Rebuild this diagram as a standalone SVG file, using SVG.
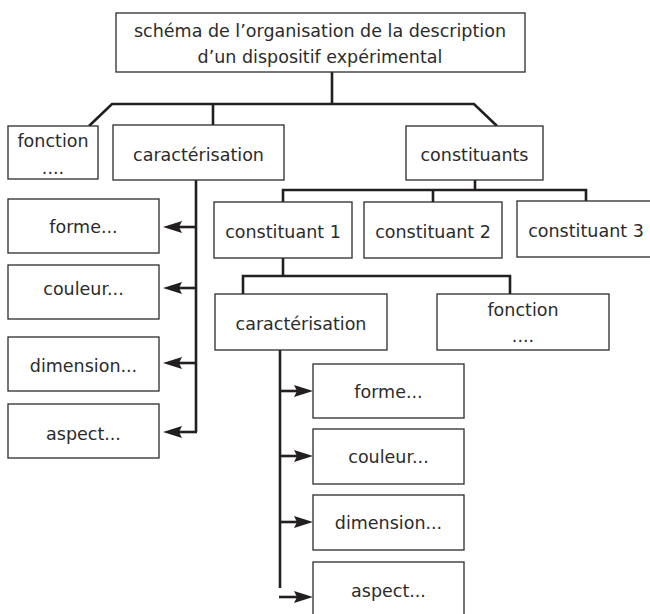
<svg xmlns="http://www.w3.org/2000/svg" width="650" height="614" viewBox="0 0 650 614">
<defs>
<style>
.box{fill:#fff;stroke:#2b2b2b;stroke-width:1.3}
.t{font-family:"DejaVu Sans","Liberation Sans",sans-serif;font-size:17.5px;fill:#2b2b2b;text-anchor:middle}
.c{fill:none;stroke:#231f20;stroke-width:2.6;stroke-linejoin:miter}
.a{fill:none;stroke:#231f20;stroke-width:2.6;marker-end:url(#ah)}
</style>
<marker id="ah" markerUnits="userSpaceOnUse" markerWidth="20" markerHeight="14" viewBox="0 0 20 14" refX="9" refY="7" orient="auto">
<path d="M0,1 L19,7 L0,13 L3,7 z" fill="#231f20"/>
</marker>
</defs>
<rect width="650" height="614" fill="#fff"/>
<g id="connectors">
<path class="c" d="M332,72 V104 M89,126 L112,104 H474 L497,126 M213,104 V125"/>
<path class="c" d="M196,180 V432"/>
<path class="a" d="M196,227 H173"/>
<path class="a" d="M196,288 H173"/>
<path class="a" d="M196,363 H173"/>
<path class="a" d="M197,432 H173"/>
<path class="c" d="M475,180 V190 M283,202 V190 H586 V202 M433,190 V202"/>
<path class="c" d="M283,258 V276 M243,294 V276 H510 V294"/>
<path class="c" d="M280,350 V588"/>
<path class="a" d="M280,391 H303"/>
<path class="a" d="M280,456 H303"/>
<path class="a" d="M280,522 H303"/>
<path class="a" d="M279,597 H303"/>
</g>
<g id="root">
<rect class="box" x="116" y="13" width="409" height="59"/>
<text class="t" x="320" y="37">schéma de l’organisation de la description</text>
<text class="t" x="320" y="63">d’un dispositif expérimental</text>
</g>
<g id="fonction1">
<rect class="box" x="8" y="126" width="90" height="53"/>
<text class="t" x="53" y="147">fonction</text>
<text class="t" x="53" y="174">....</text>
</g>
<g id="caracterisation1">
<rect class="box" x="113" y="125" width="171" height="55"/>
<text class="t" x="198.5" y="161">caractérisation</text>
</g>
<g id="constituants">
<rect class="box" x="406" y="126" width="137" height="54"/>
<text class="t" x="474.5" y="161">constituants</text>
</g>
<g id="forme1">
<rect class="box" x="8" y="199" width="151" height="54"/>
<text class="t" x="83.5" y="233">forme...</text>
</g>
<g id="couleur1">
<rect class="box" x="8" y="265" width="151" height="54"/>
<text class="t" x="83.5" y="295">couleur...</text>
</g>
<g id="dimension1">
<rect class="box" x="8" y="337" width="151" height="54"/>
<text class="t" x="83.5" y="372">dimension...</text>
</g>
<g id="aspect1">
<rect class="box" x="8" y="404" width="151" height="54"/>
<text class="t" x="83.5" y="440">aspect...</text>
</g>
<g id="constituant1">
<rect class="box" x="214" y="202" width="138" height="56"/>
<text class="t" x="283" y="238">constituant 1</text>
</g>
<g id="constituant2">
<rect class="box" x="364" y="202" width="138" height="56"/>
<text class="t" x="433" y="238">constituant 2</text>
</g>
<g id="constituant3">
<rect class="box" x="517" y="201" width="134" height="56"/>
<text class="t" x="586" y="237">constituant 3</text>
</g>
<g id="caracterisation2">
<rect class="box" x="215" y="294" width="172" height="56"/>
<text class="t" x="301" y="330">caractérisation</text>
</g>
<g id="fonction2">
<rect class="box" x="437" y="294" width="172" height="56"/>
<text class="t" x="523" y="316">fonction</text>
<text class="t" x="523" y="342">....</text>
</g>
<g id="forme2">
<rect class="box" x="313" y="364" width="151" height="54"/>
<text class="t" x="388.5" y="398">forme...</text>
</g>
<g id="couleur2">
<rect class="box" x="313" y="429" width="151" height="55"/>
<text class="t" x="388.5" y="463">couleur...</text>
</g>
<g id="dimension2">
<rect class="box" x="313" y="495" width="151" height="55"/>
<text class="t" x="388.5" y="529">dimension...</text>
</g>
<g id="aspect2">
<rect class="box" x="313" y="562" width="151" height="60"/>
<text class="t" x="388.5" y="597">aspect...</text>
</g>
</svg>
